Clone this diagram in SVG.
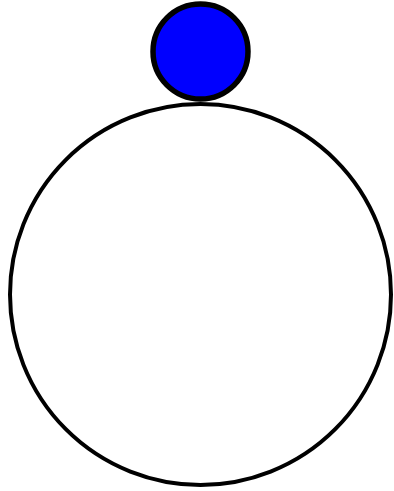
<svg xmlns="http://www.w3.org/2000/svg" width="394" height="491" viewBox="0 0 394 491">
<style>
.big{fill:#fff;stroke:#000;stroke-width:4}
.small{fill:#0000ff;stroke:#000;stroke-width:5.5}
</style>
<rect width="394" height="491" fill="#fff"/>
<g id="body"><circle class="big" cx="200.5" cy="294.5" r="190.5"/></g>
<g id="head"><circle class="small" cx="200.5" cy="51.5" r="47.5"/></g>
<g id="connectors"></g>
</svg>
